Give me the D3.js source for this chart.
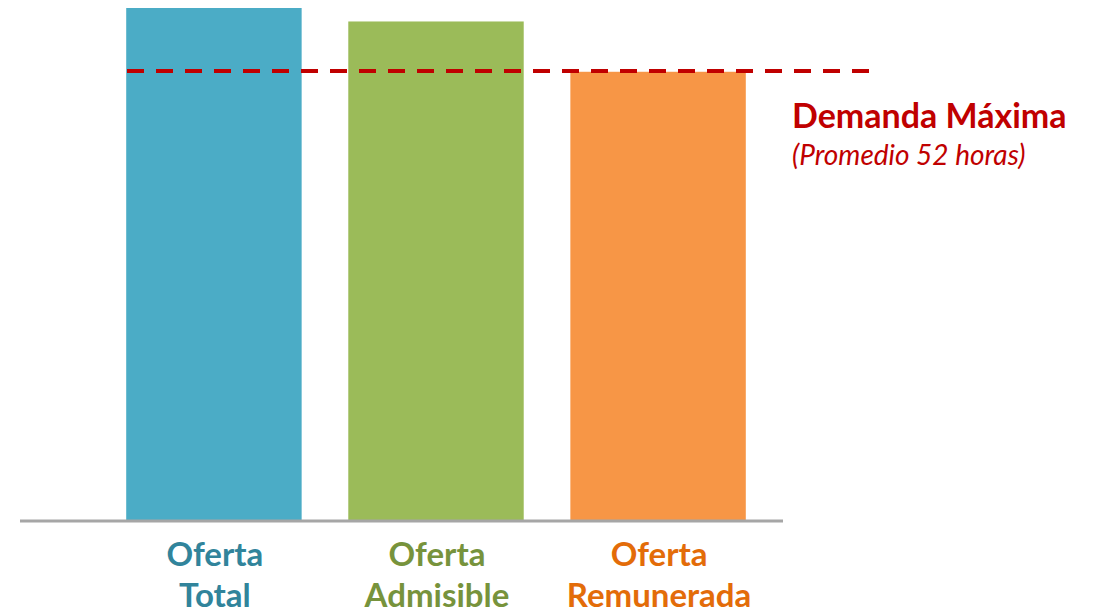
<!DOCTYPE html>
<html>
<head>
<meta charset="utf-8">
<script src="https://cdn.jsdelivr.net/npm/d3@7"></script>
<style>
  body { margin: 0; background: #fff; }
  text { font-family: Lato, "Open Sans", sans-serif; }
</style>
</head>
<body>
<script>
// categories and values (relative units, demand = 100)
var categories = ["Oferta Total", "Oferta Admisible", "Oferta Remunerada"];
var values = [114, 111, 99.8];
var labelLines = [["Oferta", "Total"], ["Oferta", "Admisible"], ["Oferta", "Remunerada"]];
var barColors = ["#4bacc6", "#9bbb59", "#f79646"];
var labelColors = ["#31849b", "#77933c", "#e36c09"];
var demand = 100;
var demandTitle = "Demanda Máxima";
var demandNote = "(Promedio 52 horas)";

var width = 1098, height = 613;

var svg = d3.select("body")
  .append("svg")
    .attr("width", width)
    .attr("height", height);

// x: band scale for the bars
var xscale = d3.scaleBand()
  .domain(categories)
  .range([104, 768])
  .paddingInner(0.21)
  .paddingOuter(0.1);

// y: value scale, baseline at 520
var yscale = d3.scaleLinear()
  .domain([0, 114])
  .range([520, 8]);

// bars
svg.selectAll("rect.bar")
  .data(values)
  .enter().append("rect")
    .attr("class", "bar")
    .attr("x", function(d, i) { return xscale(categories[i]); })
    .attr("y", function(d) { return yscale(d); })
    .attr("width", xscale.bandwidth())
    .attr("height", function(d) { return yscale(0) - yscale(d); })
    .style("fill", function(d, i) { return barColors[i]; });

// baseline axis
svg.append("line")
  .attr("x1", 20)
  .attr("x2", 783)
  .attr("y1", yscale(0) + 1)
  .attr("y2", yscale(0) + 1)
  .style("stroke", "#a6a6a6")
  .style("stroke-width", 3);

// category labels, two lines each
var labels = svg.selectAll("text.cat")
  .data(categories)
  .enter().append("text")
    .attr("class", "cat")
    .attr("text-anchor", "middle")
    .style("font-size", "33px")
    .style("font-weight", "bold")
    .style("fill", function(d, i) { return labelColors[i]; });

labels.each(function(d, i) {
  var t = d3.select(this);
  labelLines[i].forEach(function(line, j) {
    t.append("tspan")
      .attr("x", xscale(d) + xscale.bandwidth() / 2 + 1)
      .attr("y", 566 + j * 41)
      .text(line);
  });
});

// demand line
svg.append("line")
  .attr("x1", 127)
  .attr("x2", 872)
  .attr("y1", yscale(demand))
  .attr("y2", yscale(demand))
  .style("stroke", "#c00000")
  .style("stroke-width", 4)
  .style("stroke-dasharray", "17,12");

// demand annotation
svg.append("text")
  .attr("x", 792)
  .attr("y", 128)
  .style("font-size", "34px")
  .style("font-weight", "bold")
  .style("fill", "#c00000")
  .text(demandTitle);

svg.append("text")
  .attr("x", 792)
  .attr("y", 165)
  .style("font-size", "28px")
  .style("font-style", "italic")
  .style("fill", "#c00000")
  .text(demandNote);
</script>
</body>
</html>
